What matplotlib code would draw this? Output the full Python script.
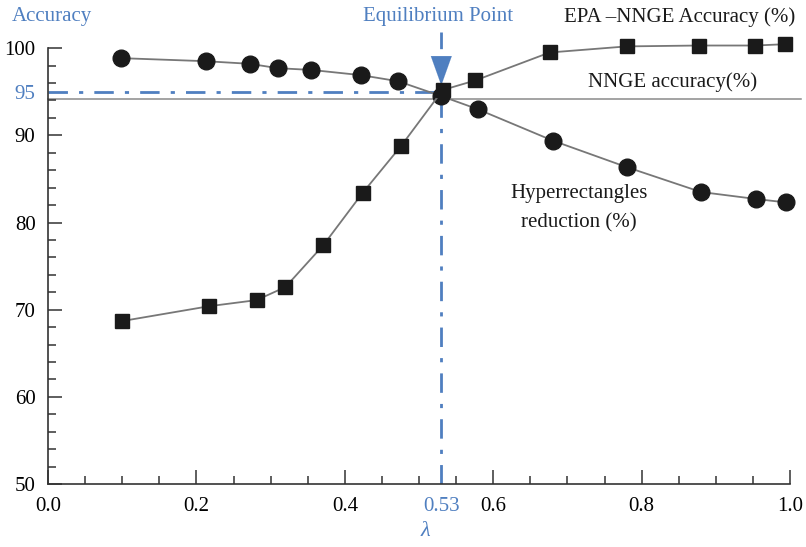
import matplotlib.pyplot as plt
from matplotlib.ticker import MultipleLocator

# lambda values and percentages
lam_reduction = [0.099, 0.213, 0.272, 0.31, 0.355, 0.422, 0.472, 0.53, 0.579, 0.68, 0.78, 0.88, 0.954, 0.995]
reduction = [98.85, 98.5, 98.2, 97.7, 97.5, 96.9, 96.2, 94.5, 93.0, 89.4, 86.35, 83.5, 82.7, 82.3]

lam_accuracy = [0.1, 0.217, 0.281, 0.32, 0.371, 0.424, 0.476, 0.532, 0.576, 0.676, 0.78, 0.877, 0.953, 0.993]
accuracy = [68.7, 70.4, 71.1, 72.6, 77.4, 83.4, 88.8, 95.2, 96.3, 99.5, 100.2, 100.3, 100.3, 100.45]

x_ticks = [0.0, 0.2, 0.4, 0.53, 0.6, 0.8, 1.0]
x_ticklabels = ["0.0", "0.2", "0.4", "0.53", "0.6", "0.8", "1.0"]
y_ticks = [50, 60, 70, 80, 90, 95, 100]
y_ticklabels = ["50", "60", "70", "80", "90", "95", "100"]

nnge_accuracy = 94.2
eq_lambda = 0.53
eq_value = 95.0

blue = "#4f7fc0"
plt.rcParams["font.family"] = ["Liberation Serif", "DejaVu Serif"]
plt.rcParams["font.size"] = 15

fig = plt.figure(figsize=(8.06, 5.47), dpi=100)
ax = fig.add_axes([0.0596, 0.115, 0.9206, 0.797])

ax.set_xlim(0, 1.0)
ax.set_ylim(50, 100)

# reference lines
ax.plot([0, 1.015], [nnge_accuracy, nnge_accuracy], color="#8a8a8a", lw=1.1, clip_on=False, zorder=1)
ax.plot([0, eq_lambda], [eq_value, eq_value], color=blue, lw=2, dashes=(7, 4, 1.5, 4), zorder=1)
ax.plot([eq_lambda, eq_lambda], [50, eq_value - 0.5], color=blue, lw=2, dashes=(7, 4, 1.5, 4), zorder=1)
ax.plot([eq_lambda, eq_lambda], [101.8, 97.6], color=blue, lw=2, dashes=(6, 4), clip_on=False, zorder=1)
ax.annotate("", xy=(eq_lambda, 95.4), xytext=(eq_lambda, 98.0),
            arrowprops=dict(arrowstyle="-|>,head_width=0.5,head_length=1.4", color=blue, lw=0.1),
            annotation_clip=False, zorder=2)

# data series
ax.plot(lam_reduction, reduction, color="#777777", lw=1.3, marker="o", markersize=12,
        markerfacecolor="#1a1a1a", markeredgecolor="#1a1a1a", clip_on=False, zorder=3)
ax.plot(lam_accuracy, accuracy, color="#777777", lw=1.3, marker="s", markersize=10,
        markerfacecolor="#1a1a1a", markeredgecolor="#1a1a1a", clip_on=False, zorder=4)

# axes styling
for side in ["top", "right"]:
    ax.spines[side].set_visible(False)
for side in ["left", "bottom"]:
    ax.spines[side].set_color("#333333")
    ax.spines[side].set_linewidth(1.2)

ax.set_xticks(x_ticks)
ax.set_xticklabels(x_ticklabels)
ax.set_yticks(y_ticks)
ax.set_yticklabels(y_ticklabels)
ax.xaxis.set_minor_locator(MultipleLocator(0.05))
ax.yaxis.set_minor_locator(MultipleLocator(2))
ax.tick_params(which="both", direction="in", color="#333333", width=1.1, labelsize=15)
ax.tick_params(which="major", length=10, pad=9)
ax.tick_params(which="minor", length=6)

# highlighted equilibrium tick labels
xi = x_ticks.index(eq_lambda)
ax.xaxis.get_major_ticks()[xi].tick1line.set_visible(False)
ax.get_xticklabels()[xi].set_color(blue)
yi = y_ticks.index(95)
ax.yaxis.get_major_ticks()[yi].tick1line.set_visible(False)
ax.get_yticklabels()[yi].set_color(blue)

# annotations
fig.text(425 / 806, 1 - 532 / 547, "\u03bb", color=blue, fontsize=16, style="italic", ha="center", va="center")
fig.text(12 / 806, 1 - 17 / 547, "Accuracy", color=blue, fontsize=15, ha="left", va="center")
fig.text(438 / 806, 1 - 17 / 547, "Equilibrium Point", color=blue, fontsize=15, ha="center", va="center")
fig.text(795 / 806, 1 - 17 / 547, "EPA \u2013NNGE Accuracy (%)", color="#1a1a1a", fontsize=15, ha="right", va="center")
ax.text(0.955, 96.1, "NNGE accuracy(%)", color="#1a1a1a", fontsize=15, ha="right", va="center")
ax.text(0.715, 81.6, "Hyperrectangles\nreduction (%)", color="#1a1a1a", fontsize=15, ha="center", va="center",
        linespacing=1.7)

fig.savefig("out.png", dpi=100)
